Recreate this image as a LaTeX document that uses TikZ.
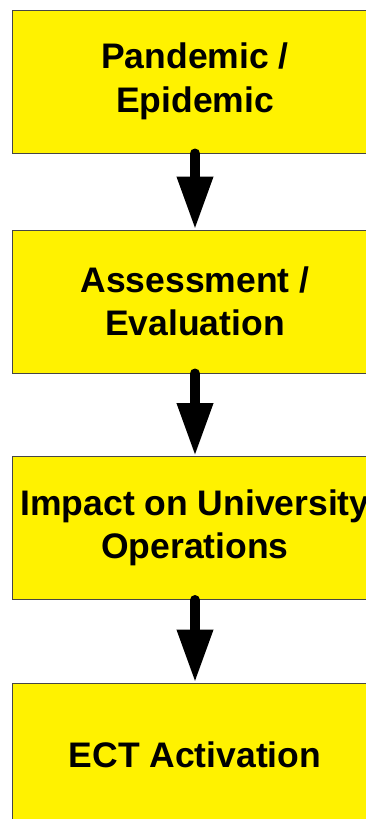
\documentclass[tikz,border=0pt]{standalone}
\usepackage{fontspec}
\setmainfont{Liberation Sans}
\usetikzlibrary{arrows.meta}
\definecolor{boxline}{RGB}{70,70,70}

\begin{document}
\begin{tikzpicture} [x=1pt, y=-1pt,
  stage/.style={draw=boxline, line width=1pt, fill=yellow, minimum width=366pt,
    minimum height=143pt, inner sep=0pt, align=center,
    font=\fontsize{35.5}{43.5}\selectfont\bfseries},
  flow/.style={line width=10pt, line cap=round, -{Triangle[length=53pt,width=34pt]}}]
 \useasboundingbox (0,0) rectangle (366,819);
 \clip (0,0) rectangle (366,819);
 \node [stage] (pandemic) at (195,81.5) {Pandemic /\\Epidemic};
 \node [stage] (assess) at (195,301.5) {Assessment /\\Evaluation};
 \node [stage] (impact) at (195,528) {Impact on University\\Operations};
 \node [stage] (ect) at (195,754.5) {ECT Activation};
 \draw [flow] (pandemic.south) -- (assess.north);
 \draw [flow] (assess.south) -- (impact.north);
 \draw [flow] (impact.south) -- (ect.north);
\end{tikzpicture}
\end{document}
